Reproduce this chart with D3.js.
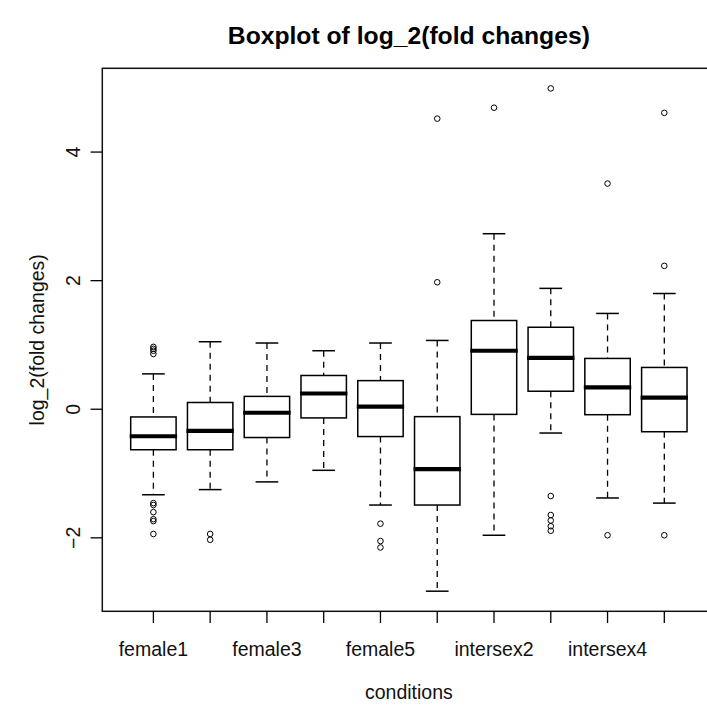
<!DOCTYPE html>
<html>
<head>
<meta charset="utf-8">
<script src="https://cdn.jsdelivr.net/npm/d3@7"></script>
<style>
  html, body { margin: 0; padding: 0; background: #fff; }
  svg { display: block; font-family: "Liberation Sans", Arial, sans-serif; }
</style>
</head>
<body>
<script>
// Per-condition five-number summaries of log_2(fold changes)
const categories  = ["female1", "female2", "female3", "female4", "female5",
                     "intersex1", "intersex2", "intersex3", "intersex4", "intersex5"];
const whiskerLow  = [-1.33, -1.25, -1.13, -0.95, -1.49, -2.83, -1.96, -0.37, -1.38, -1.46];
const q1          = [-0.63, -0.63, -0.44, -0.135, -0.425, -1.49, -0.08, 0.28, -0.085, -0.35];
const median      = [-0.42, -0.335, -0.055, 0.245, 0.04, -0.93, 0.91, 0.80, 0.34, 0.18];
const q3          = [-0.12, 0.105, 0.20, 0.525, 0.445, -0.115, 1.38, 1.275, 0.79, 0.65];
const whiskerHigh = [0.55, 1.05, 1.03, 0.91, 1.03, 1.07, 2.73, 1.88, 1.49, 1.80];
const outliers    = [
  [0.97, 0.94, 0.91, 0.86, -1.46, -1.49, -1.60, -1.71, -1.74, -1.94],
  [-1.94, -2.03],
  [],
  [],
  [-1.78, -2.05, -2.15],
  [4.52, 1.975],
  [4.69],
  [4.99, -1.35, -1.645, -1.73, -1.82, -1.89],
  [3.51, -1.96],
  [4.61, 2.23, -1.96]
];
const yTicks = [-2, 0, 2, 4];

const W = 707, H = 706;
const plot = { left: 102.3, right: 715.4, top: 68.3, bottom: 611.3 };
const lineH = 22.5;          // one margin line
const labelSize = 19.5;

const svg = d3.select("body").append("svg")
  .attr("width", W).attr("height", H);

// x: boxes at positions 1..n, limits padded 4% like base graphics
const n = categories.length;
const x = d3.scaleLinear()
  .domain([0.5 - 0.04 * n, n + 0.5 + 0.04 * n])
  .range([plot.left, plot.right]);

const allVals = whiskerLow.concat(whiskerHigh, outliers.flat());
const lo = d3.min(allVals), hi = d3.max(allVals), pad = 0.04 * (hi - lo);
const y = d3.scaleLinear().domain([lo - pad, hi + pad]).range([plot.bottom, plot.top]);

const unit = x(2) - x(1);
const boxW = 0.8 * unit;
const stapleW = 0.5 * boxW;

const g = svg.append("g");

categories.forEach((c, i) => {
  const cx = x(i + 1);
  const b = g.append("g");
  // whiskers
  b.append("line").attr("x1", cx).attr("x2", cx)
    .attr("y1", y(whiskerHigh[i])).attr("y2", y(q3[i]))
    .attr("stroke", "#000").attr("stroke-width", 1.3).attr("stroke-dasharray", "6,5");
  b.append("line").attr("x1", cx).attr("x2", cx)
    .attr("y1", y(q1[i])).attr("y2", y(whiskerLow[i]))
    .attr("stroke", "#000").attr("stroke-width", 1.3).attr("stroke-dasharray", "6,5");
  // staples
  [whiskerHigh[i], whiskerLow[i]].forEach(v => {
    b.append("line").attr("x1", cx - stapleW / 2).attr("x2", cx + stapleW / 2)
      .attr("y1", y(v)).attr("y2", y(v))
      .attr("stroke", "#000").attr("stroke-width", 1.5);
  });
  // box
  b.append("rect").attr("x", cx - boxW / 2).attr("width", boxW)
    .attr("y", y(q3[i])).attr("height", y(q1[i]) - y(q3[i]))
    .attr("fill", "none").attr("stroke", "#000").attr("stroke-width", 1.5);
  // median
  b.append("line").attr("x1", cx - boxW / 2 - 1).attr("x2", cx + boxW / 2 + 1)
    .attr("y1", y(median[i])).attr("y2", y(median[i]))
    .attr("stroke", "#000").attr("stroke-width", 4.2);
  // outliers
  b.selectAll("circle").data(outliers[i]).join("circle")
    .attr("cx", cx).attr("cy", d => y(d)).attr("r", 2.8)
    .attr("fill", "none").attr("stroke", "#000").attr("stroke-width", 1);
});

// frame (right side falls outside the canvas)
svg.append("rect")
  .attr("x", plot.left).attr("y", plot.top)
  .attr("width", plot.right - plot.left).attr("height", plot.bottom - plot.top)
  .attr("fill", "none").attr("stroke", "#111").attr("stroke-width", 1.5);

// x axis: ticks at every box, labels skipped where they would collide
const xAxis = svg.append("g");
xAxis.selectAll("line").data(categories).join("line")
  .attr("x1", (d, i) => x(i + 1)).attr("x2", (d, i) => x(i + 1))
  .attr("y1", plot.bottom).attr("y2", plot.bottom + lineH * 0.5 + 0.5)
  .attr("stroke", "#000").attr("stroke-width", 1.3);
let lastRight = -Infinity;
categories.forEach((c, i) => {
  const t = xAxis.append("text")
    .attr("x", x(i + 1)).attr("y", plot.bottom + 2 * lineH - 0.5)
    .attr("text-anchor", "middle").attr("font-size", labelSize).attr("fill", "#111")
    .text(c);
  const w = t.node().getComputedTextLength();
  const left = x(i + 1) - w / 2;
  if (left < lastRight + labelSize * 0.5) t.remove();
  else lastRight = x(i + 1) + w / 2;
});

// y axis
const yAxis = svg.append("g");
yAxis.selectAll("line").data(yTicks).join("line")
  .attr("x1", plot.left).attr("x2", plot.left - lineH * 0.5 - 0.5)
  .attr("y1", d => y(d)).attr("y2", d => y(d))
  .attr("stroke", "#000").attr("stroke-width", 1.3);
yAxis.selectAll("text").data(yTicks).join("text")
  .attr("transform", d => `translate(${plot.left - lineH},${y(d)}) rotate(-90)`)
  .attr("text-anchor", "middle").attr("font-size", labelSize).attr("fill", "#111")
  .text(d => d3.format("d")(d));

// titles
const cxPlot = (plot.left + plot.right) / 2;
const cyPlot = (plot.top + plot.bottom) / 2;
svg.append("text")
  .attr("x", cxPlot).attr("y", 44.3)
  .attr("text-anchor", "middle").attr("font-size", 24.7).attr("font-weight", "bold")
  .attr("fill", "#000")
  .text("Boxplot of log_2(fold changes)");
svg.append("text")
  .attr("x", cxPlot).attr("y", plot.bottom + 4 * lineH - 2)
  .attr("text-anchor", "middle").attr("font-size", labelSize).attr("fill", "#111")
  .text("conditions");
svg.append("text")
  .attr("transform", `translate(${plot.left - 2.6 * lineH},${cyPlot}) rotate(-90)`)
  .attr("text-anchor", "middle").attr("font-size", labelSize).attr("fill", "#111")
  .text("log_2(fold changes)");
</script>
</body>
</html>
